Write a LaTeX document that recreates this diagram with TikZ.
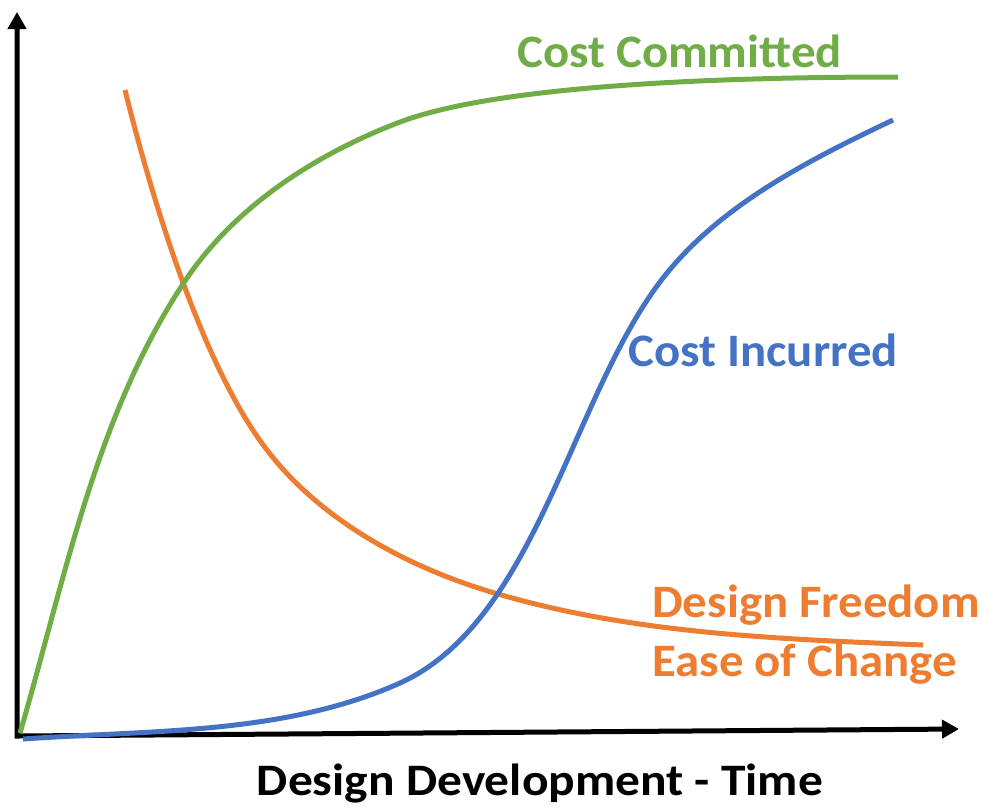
\documentclass[tikz,border=0pt]{standalone}
\usepackage{fontspec}
\setmainfont{Carlito}
\usetikzlibrary{arrows.meta}
\definecolor{cgreen}{HTML}{70AD47}
\definecolor{corange}{HTML}{ED7D31}
\definecolor{cblue}{HTML}{4472C4}
\newcommand{\lbltext}[1]{\scalebox{1.05}[1]{#1}}
\begin{document}
\begin{tikzpicture}[x=1pt,y=-1pt,
  curve/.style={line width=5pt, line cap=butt, line join=round},
  axis/.style={line width=5pt, line join=miter, {Triangle[length=17pt,width=18pt]}-{Triangle[length=17pt,width=18pt]}},
  lbl/.style={font=\fontsize{46.5}{50}\selectfont\bfseries, inner sep=0pt, anchor=base west}]
\fill[white] (0,0) rectangle (981,807);
\useasboundingbox (0,0) rectangle (981,807);
% axes
\coordinate (ytip) at (17,12);
\coordinate (origin) at (17,736);
\coordinate (xtip) at (959,729);
\draw[axis] (ytip) -- (origin) -- (xtip);
% design freedom (orange)
\draw[curve, corange] (125,90) .. controls (156,215) and (206,371) .. (267,450)
  .. controls (322,522) and (411,569) .. (498,594)
  .. controls (635,634) and (780,639) .. (923,645);
% cost committed (green)
\draw[curve, cgreen] (20,733) .. controls (65,579) and (96,414) .. (185,281)
  .. controls (235,206) and (316,154) .. (400,122)
  .. controls (493,87) and (700,77) .. (898,77);
% cost incurred (blue)
\draw[curve, cblue] (23,739) .. controls (150,730) and (284,735) .. (400,683)
  .. controls (537,621) and (571,396) .. (663,278)
  .. controls (720,205) and (809,160) .. (893,120);
% labels
\node[lbl, text=cgreen] (lcommit) at (517,67) {\lbltext{Cost Committed}};
\node[lbl, text=cblue] (lincur) at (628,366) {\lbltext{Cost Incurred}};
\node[lbl, text=corange] (lfree) at (652,617) {\lbltext{Design Freedom}};
\node[lbl, text=corange] (lease) at (652,676) {\lbltext{Ease of Change}};
\node[font=\fontsize{45}{50}\selectfont\bfseries, inner sep=0pt, anchor=base] (lxaxis) at (540,795) {\scalebox{1.1}[1]{Design Development - Time}};
\end{tikzpicture}
\end{document}
